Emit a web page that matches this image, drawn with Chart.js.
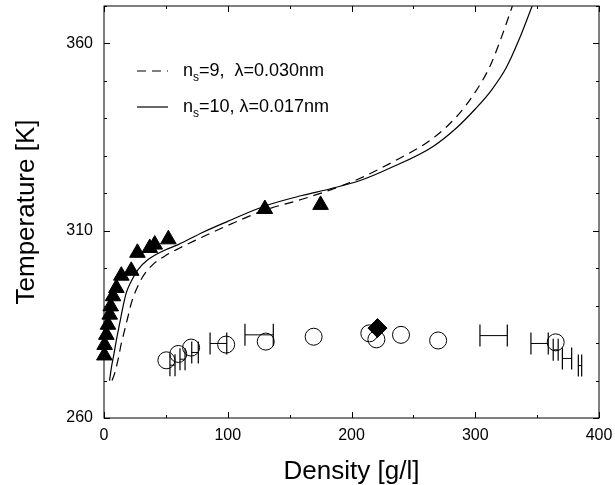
<!DOCTYPE html>
<html>
<head>
<meta charset="utf-8">
<script src="https://cdn.jsdelivr.net/npm/chart.js@4.4.1/dist/chart.umd.min.js"></script>
<style>
  html, body { margin: 0; padding: 0; background: #fff; }
  canvas { display: block; }
</style>
</head>
<body>
<canvas id="c" width="615" height="485"></canvas>
<script>
const FONT = "'Liberation Sans', Arial, Helvetica, sans-serif";
const INK = '#000';

// model curve n_s=10, lambda=0.017nm (solid)
const solidD = [4.5, 6, 8, 10, 12.7, 15.4, 18, 22, 27.5, 35.6, 49, 60, 80, 100, 130, 160, 183, 207, 233, 265, 285, 300, 313, 325, 336, 346];
const solidT = [270, 273.5, 277, 280.8, 285.3, 289.8, 293.4, 296.5, 299.6, 302.3, 304.8, 306.3, 309.6, 312.5, 316.6, 319.4, 321.2, 323.4, 327, 332.3, 337.5, 342.5, 347.5, 353.5, 361.5, 370];

// model curve n_s=9, lambda=0.030nm (dashed)
const dashD = [6.5, 8.6, 11.3, 14, 16.7, 19.4, 22.1, 26.1, 31.5, 39.6, 49, 60, 80, 100, 130, 160, 183, 195, 207, 233, 265, 285, 300, 312, 321, 330];
const dashT = [270, 271.9, 275.5, 279.9, 283.5, 287.1, 290.7, 294.3, 297.8, 301, 303.2, 305.2, 308.4, 311.4, 315.5, 318.4, 320.9, 322.4, 324, 328.3, 334.5, 340.5, 347, 354, 361.5, 370];

// filled triangles
const triD = [0.3, 0.5, 1.9, 3.2, 4.6, 5.4, 7.3, 10, 14, 22, 27, 37, 41, 52, 130, 175];
const triT = [276.7, 279.5, 282.2, 284.9, 287.6, 289.8, 292.5, 294.7, 298, 299.3, 304.1, 305.4, 306.3, 307.7, 315.8, 316.9];

// open circles
const circD = [50.4, 60, 70.4, 98.7, 130.7, 169.4, 214.4, 220.1, 240, 270, 365];
const circT = [275.4, 277.1, 278.8, 279.6, 280.4, 281.7, 282.6, 281, 282.2, 280.7, 280.2];

// filled diamond
const diaD = [221];
const diaT = [284];

// horizontal error bars
const errT  = [274.1, 275.7, 277.5, 279.9, 282.2, 282, 279.9, 278.2, 275.9, 274];
const errLo = [53.3, 61.4, 70.9, 85.7, 113.9, 303.8, 345, 363, 370.4, 383.3];
const errHi = [57.4, 65.5, 76.2, 99.2, 136.8, 325.9, 359, 367, 377.9, 386];

const xTicks = { min: 0, max: 400, step: 50, label: 100 };
const yTicks = { min: 260, max: 370, step: 10, label: 50 };

const pts = (xs, ys) => xs.map((v, i) => ({ x: v, y: ys[i] }));
const isMajor = (v, t) => (v - t.min) % t.label === 0;

const errData = [];
errT.forEach((t, i) => {
  errData.push({ x: errLo[i], y: t }, { x: errHi[i], y: t }, { x: errHi[i], y: null });
});

const framePlugin = {
  id: 'frame',
  afterDatasetsDraw(chart) {
    const { ctx, chartArea: a, scales: { x, y } } = chart;
    ctx.save();
    ctx.strokeStyle = INK;
    ctx.lineWidth = 1;
    ctx.strokeRect(a.left, a.top, a.width, a.height);
    ctx.beginPath();
    x.ticks.forEach(t => {
      const px = Math.round(x.getPixelForValue(t.value)) + 0.5;
      const len = isMajor(t.value, xTicks) ? 6 : 3;
      ctx.moveTo(px, a.bottom); ctx.lineTo(px, a.bottom - len);
      ctx.moveTo(px, a.top); ctx.lineTo(px, a.top + len);
    });
    y.ticks.forEach(t => {
      const py = Math.round(y.getPixelForValue(t.value)) + 0.5;
      const len = isMajor(t.value, yTicks) ? 6 : 3;
      ctx.moveTo(a.left, py); ctx.lineTo(a.left + len, py);
      ctx.moveTo(a.right, py); ctx.lineTo(a.right - len, py);
    });
    ctx.stroke();
    ctx.restore();
  }
};

const legendPlugin = {
  id: 'subLegend',
  afterDraw(chart) {
    const { ctx, chartArea: a } = chart;
    const rows = [
      { dash: [9, 6], ns: '9,', rest: '  \u03bb=0.030nm', dy: 65 },
      { dash: [],     ns: '10,', rest: ' \u03bb=0.017nm', dy: 101 }
    ];
    ctx.save();
    ctx.fillStyle = INK;
    ctx.strokeStyle = INK;
    ctx.lineWidth = 1.2;
    ctx.textBaseline = 'middle';
    rows.forEach(r => {
      const yy = a.top + r.dy;
      ctx.setLineDash(r.dash);
      ctx.beginPath();
      ctx.moveTo(a.left + 33, yy); ctx.lineTo(a.left + 64, yy);
      ctx.stroke();
      ctx.setLineDash([]);
      let xx = a.left + 79;
      ctx.font = `18px ${FONT}`;
      ctx.fillText('n', xx, yy);
      xx += ctx.measureText('n').width;
      ctx.font = `12px ${FONT}`;
      ctx.fillText('s', xx, yy + 7);
      xx += ctx.measureText('s').width;
      ctx.font = `18px ${FONT}`;
      ctx.fillText('=' + r.ns + r.rest, xx, yy);
    });
    ctx.restore();
  }
};

// pin the plot box to where the original figure has it
const pinPlugin = {
  id: 'pinArea',
  afterLayout(chart) {
    const a = chart.chartArea, y = chart.scales.y;
    const shift = a.top - 6;
    if (shift > 0) {
      a.top -= shift; a.height += shift;
      y.top -= shift; y.height += shift;
      y.configure();
    }
  }
};

new Chart(document.getElementById('c'), {
  type: 'scatter',
  data: {
    datasets: [
      { label: 'ns=10', data: pts(solidD, solidT), showLine: true, borderColor: INK, borderWidth: 1.2, pointRadius: 0, cubicInterpolationMode: 'monotone' },
      { label: 'ns=9', data: pts(dashD, dashT), showLine: true, borderColor: INK, borderWidth: 1.2, borderDash: [9, 6], pointRadius: 0, cubicInterpolationMode: 'monotone' },
      { label: 'err', data: errData, showLine: true, spanGaps: false, borderColor: INK, borderWidth: 1, pointStyle: 'line', rotation: 90, pointRadius: 11, pointBorderColor: INK, pointBorderWidth: 1.2, clip: false },
      { label: 'circles', data: pts(circD, circT), pointStyle: 'circle', pointRadius: 8.5, backgroundColor: 'rgba(0,0,0,0)', borderColor: INK, borderWidth: 1, clip: false },
      { label: 'triangles', data: pts(triD, triT), pointStyle: 'triangle', pointRadius: 9, backgroundColor: INK, borderColor: INK, borderWidth: 1, clip: false },
      { label: 'diamond', data: pts(diaD, diaT), pointStyle: 'rectRot', pointRadius: 9.5, backgroundColor: INK, borderColor: INK, borderWidth: 1, clip: false }
    ]
  },
  options: {
    responsive: false,
    animation: false,
    devicePixelRatio: 1,
    layout: { padding: { top: 6, right: 16, left: 0, bottom: 0 } },
    plugins: { legend: { display: false }, tooltip: { enabled: false } },
    scales: {
      x: {
        type: 'linear', min: xTicks.min, max: xTicks.max,
        grid: { display: false, drawTicks: false },
        border: { display: false },
        ticks: { stepSize: xTicks.step, padding: 8, color: INK, font: { family: FONT, size: 16 }, maxRotation: 0,
                 callback: v => isMajor(v, xTicks) ? v : '' },
        title: { display: true, text: 'Density [g/l]', color: INK, font: { family: FONT, size: 26, lineHeight: 1 }, padding: 0 },
        afterFit: s => { s.height = 67; s.paddingLeft = 0; s.paddingRight = 0; }
      },
      y: {
        type: 'linear', min: yTicks.min, max: yTicks.max,
        grid: { display: false, drawTicks: false },
        border: { display: false },
        ticks: { stepSize: yTicks.step, padding: 11, color: INK, font: { family: FONT, size: 16 },
                 callback: v => isMajor(v, yTicks) ? v : '' },
        title: { display: true, text: 'Temperature [K]', color: INK, font: { family: FONT, size: 26, lineHeight: 1.2 }, padding: { top: 11, bottom: 0 } },
        afterFit: s => { s.width = 104; s.paddingTop = 0; s.paddingBottom = 0; }
      }
    }
  },
  plugins: [framePlugin, legendPlugin, pinPlugin]
});
</script>
</body>
</html>
